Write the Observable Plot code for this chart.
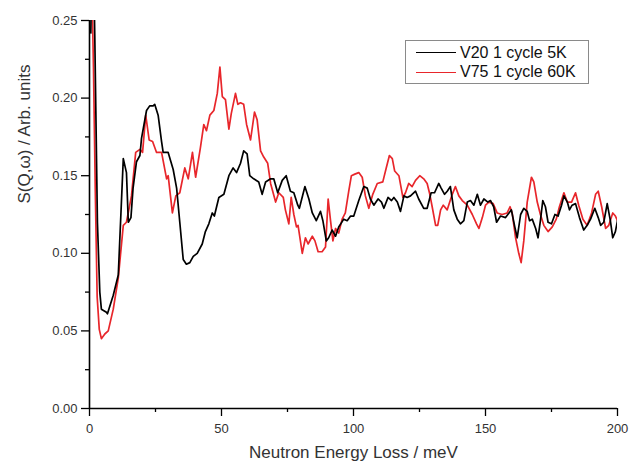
<!DOCTYPE html>
<html>
<head>
<meta charset="utf-8">
<script src="https://cdn.jsdelivr.net/npm/d3@7"></script>
<script src="https://cdn.jsdelivr.net/npm/@observablehq/plot@0.6"></script>
<style>
  html, body { margin: 0; padding: 0; background: #fff; }
  #chart { position: relative; width: 629px; height: 462px; font-family: "Liberation Sans", Arial, sans-serif; }
  #legend {
    position: absolute; left: 405px; top: 40px; width: 184px; height: 44px;
    border: 1px solid #8a8a8a; background: #fff; box-sizing: border-box;
    font-size: 16px; color: #111; padding-top: 2px;
  }
  #legend .row { display: flex; align-items: center; height: 19.5px; }
  #legend .swatch { width: 40px; height: 0; margin-left: 10px; margin-right: 4px; }
</style>
</head>
<body>
<div id="chart"></div>
<script>
// V20, 1 cycle, measured at 5 K
const v20Energy = [0.5, 1.2, 2.0, 3.0, 3.9, 4.5, 6.4, 6.8, 9.0, 10.9, 12.8, 14.0, 14.7, 15.7, 16.5, 17.8, 19.1, 19.7, 21.6, 22.8, 24.1, 24.7, 26.0, 27.3, 27.9, 29.8, 31.7, 33.0, 34.2, 35.5, 36.7, 38.0, 39.3, 40.8, 42.7, 43.9, 45.2, 46.5, 47.3, 49.0, 50.9, 52.8, 54.4, 55.7, 57.2, 58.4, 59.7, 60.7, 62.2, 64.1, 65.4, 66.7, 68.6, 69.8, 71.3, 73.0, 74.5, 76.1, 77.4, 78.9, 79.5, 81.6, 83.1, 84.4, 85.9, 87.5, 88.4, 89.7, 90.6, 91.9, 93.2, 94.4, 96.3, 97.6, 98.9, 100.1, 102.0, 103.9, 105.2, 106.4, 107.7, 109.3, 110.6, 111.5, 113.1, 114.4, 115.3, 116.6, 117.8, 119.1, 120.3, 121.6, 123.5, 124.7, 126.6, 127.9, 129.4, 130.7, 132.3, 133.2, 134.5, 135.5, 136.7, 138.0, 139.3, 140.5, 141.8, 143.1, 144.3, 145.6, 146.9, 148.1, 149.4, 150.9, 151.9, 153.1, 154.2, 155.7, 157.6, 159.8, 161.1, 162.0, 163.3, 164.5, 165.8, 166.7, 167.7, 169.0, 169.9, 170.8, 171.7, 172.7, 173.7, 175.0, 176.3, 177.5, 178.8, 179.7, 181.0, 181.8, 182.8, 184.1, 185.6, 187.2, 188.5, 189.8, 191.4, 192.7, 193.6, 194.8, 196.1, 197.3, 198.2, 199.2, 200.0];
const v20S = [0.242, 0.32, 0.24, 0.12, 0.075, 0.064, 0.062, 0.061, 0.073, 0.086, 0.161, 0.152, 0.120, 0.123, 0.142, 0.159, 0.163, 0.174, 0.192, 0.195, 0.195, 0.196, 0.189, 0.172, 0.165, 0.165, 0.154, 0.142, 0.120, 0.096, 0.093, 0.094, 0.098, 0.100, 0.106, 0.114, 0.119, 0.126, 0.124, 0.136, 0.138, 0.150, 0.155, 0.152, 0.158, 0.166, 0.164, 0.150, 0.148, 0.146, 0.138, 0.146, 0.148, 0.148, 0.139, 0.147, 0.150, 0.140, 0.139, 0.131, 0.129, 0.143, 0.135, 0.126, 0.121, 0.127, 0.121, 0.108, 0.110, 0.115, 0.111, 0.117, 0.122, 0.121, 0.124, 0.124, 0.134, 0.143, 0.142, 0.135, 0.131, 0.135, 0.133, 0.129, 0.136, 0.134, 0.136, 0.133, 0.127, 0.137, 0.136, 0.137, 0.140, 0.135, 0.129, 0.129, 0.139, 0.139, 0.145, 0.142, 0.138, 0.140, 0.143, 0.128, 0.122, 0.119, 0.121, 0.133, 0.134, 0.131, 0.138, 0.131, 0.135, 0.133, 0.134, 0.130, 0.120, 0.124, 0.123, 0.128, 0.117, 0.110, 0.125, 0.129, 0.127, 0.121, 0.122, 0.116, 0.110, 0.121, 0.134, 0.130, 0.120, 0.119, 0.125, 0.124, 0.131, 0.137, 0.133, 0.128, 0.131, 0.132, 0.123, 0.115, 0.118, 0.122, 0.129, 0.123, 0.118, 0.120, 0.132, 0.121, 0.110, 0.114, 0.121];

// V75, 1 cycle, measured at 60 K
const v75Energy = [0.6, 1.5, 2.2, 2.9, 3.7, 4.5, 5.8, 7.1, 9.0, 10.9, 12.8, 14.0, 15.9, 17.5, 19.1, 20.1, 21.3, 22.6, 23.9, 25.4, 27.3, 29.2, 29.8, 31.4, 32.7, 34.2, 36.1, 37.4, 39.0, 40.2, 42.0, 43.3, 44.3, 45.6, 47.1, 48.4, 49.4, 50.3, 51.5, 52.8, 53.7, 55.3, 56.2, 57.2, 58.4, 59.5, 61.0, 62.5, 63.5, 64.8, 66.0, 67.5, 68.6, 70.5, 71.7, 73.4, 74.2, 75.5, 76.4, 77.4, 78.4, 79.0, 80.6, 81.8, 82.8, 84.4, 85.4, 86.6, 88.1, 89.4, 90.4, 91.3, 92.2, 93.2, 94.4, 95.7, 96.9, 98.2, 99.2, 100.5, 102.0, 103.3, 104.5, 105.8, 107.3, 109.0, 111.1, 112.4, 113.6, 114.7, 115.6, 117.2, 118.7, 119.7, 120.9, 122.2, 123.5, 125.1, 126.6, 127.9, 128.9, 129.8, 131.1, 131.9, 133.0, 134.0, 135.5, 137.4, 138.6, 139.9, 141.2, 143.1, 145.0, 146.6, 147.5, 148.8, 150.0, 151.3, 152.9, 154.4, 156.3, 158.2, 159.3, 160.1, 161.4, 162.6, 163.5, 164.5, 165.8, 167.4, 168.3, 169.6, 170.8, 172.1, 173.7, 175.3, 176.8, 178.0, 179.7, 181.0, 182.6, 184.1, 185.3, 186.9, 188.5, 190.2, 191.7, 192.7, 194.0, 195.5, 196.7, 198.2, 199.2, 200.0];
const v75S = [0.30, 0.22, 0.14, 0.072, 0.051, 0.045, 0.048, 0.050, 0.064, 0.084, 0.118, 0.120, 0.137, 0.165, 0.167, 0.165, 0.189, 0.173, 0.172, 0.165, 0.165, 0.148, 0.150, 0.126, 0.137, 0.139, 0.155, 0.148, 0.165, 0.149, 0.168, 0.183, 0.179, 0.189, 0.192, 0.203, 0.220, 0.201, 0.199, 0.180, 0.190, 0.203, 0.196, 0.197, 0.196, 0.183, 0.173, 0.191, 0.186, 0.166, 0.162, 0.158, 0.145, 0.133, 0.139, 0.136, 0.128, 0.119, 0.136, 0.125, 0.117, 0.118, 0.100, 0.110, 0.106, 0.111, 0.108, 0.101, 0.101, 0.104, 0.135, 0.121, 0.108, 0.116, 0.113, 0.122, 0.126, 0.140, 0.150, 0.151, 0.152, 0.149, 0.137, 0.129, 0.138, 0.145, 0.146, 0.155, 0.163, 0.161, 0.153, 0.150, 0.136, 0.139, 0.145, 0.143, 0.147, 0.150, 0.148, 0.145, 0.138, 0.130, 0.118, 0.118, 0.128, 0.131, 0.128, 0.138, 0.143, 0.137, 0.134, 0.131, 0.125, 0.119, 0.116, 0.123, 0.131, 0.133, 0.132, 0.126, 0.125, 0.126, 0.130, 0.126, 0.110, 0.100, 0.094, 0.108, 0.133, 0.149, 0.146, 0.133, 0.125, 0.118, 0.114, 0.117, 0.122, 0.130, 0.139, 0.133, 0.133, 0.139, 0.131, 0.122, 0.118, 0.126, 0.138, 0.140, 0.130, 0.116, 0.118, 0.126, 0.124, 0.121];

const seriesNames = ["V20 1 cycle 5K", "V75 1 cycle 60K"];
const seriesColors = ["#000000", "#e8262b"];

const xMajor = [0, 50, 100, 150, 200];
const xMinor = [25, 75, 125, 175];
const yMajor = [0, 0.05, 0.10, 0.15, 0.20, 0.25];
const yMinor = [0.025, 0.075, 0.125, 0.175, 0.225];

const xLabel = "Neutron Energy Loss / meV";
const yLabel = "S(Q,ω) / Arb. units";

const v20 = v20Energy.map((e, i) => ({e, s: v20S[i]}));
const v75 = v75Energy.map((e, i) => ({e, s: v75S[i]}));

const plot = Plot.plot({
  width: 629,
  height: 462,
  marginLeft: 89,
  marginRight: 12,
  marginTop: 20,
  marginBottom: 54,
  style: {fontFamily: "'Liberation Sans', Arial, sans-serif", fontSize: "13px", color: "#222", background: "#fff", overflow: "visible"},
  x: {domain: [0, 200]},
  y: {domain: [0, 0.25]},
  marks: [
    Plot.lineY(v75, {x: "e", y: "s", stroke: seriesColors[1], strokeWidth: 1.7, clip: true}),
    Plot.lineY(v20, {x: "e", y: "s", stroke: seriesColors[0], strokeWidth: 1.7, clip: true}),
    Plot.axisX({ticks: xMinor, tickSize: 4, tickFormat: () => "", label: null, stroke: "#000", strokeWidth: 1.3}),
    Plot.axisX({ticks: xMajor, tickSize: 8, tickPadding: 7, tickFormat: d => String(d), label: null, stroke: "#000", strokeWidth: 1.3, fill: "#333", fontSize: 13}),
    Plot.axisY({ticks: yMinor, tickSize: 4, tickFormat: () => "", label: null, stroke: "#000", strokeWidth: 1.3}),
    Plot.axisY({ticks: yMajor, tickSize: 8, tickPadding: 4, tickFormat: d3.format(".2f"), label: null, stroke: "#000", strokeWidth: 1.3, fill: "#333", fontSize: 13}),
    Plot.ruleY([0], {stroke: "#000", strokeWidth: 1.6}),
    Plot.ruleX([0], {stroke: "#000", strokeWidth: 1.6}),
    Plot.text([xLabel], {frameAnchor: "bottom", dy: 44, lineAnchor: "middle", fontSize: 17, fill: "#333"}),
    Plot.text([yLabel], {frameAnchor: "left", dx: -65, dy: -11, rotate: -90, lineAnchor: "middle", fontSize: 17, fill: "#333"})
  ]
});

const chart = document.getElementById("chart");
chart.appendChild(plot);

// legend box inside the plotting area
const legend = document.createElement("div");
legend.id = "legend";
seriesNames.forEach((name, i) => {
  const row = document.createElement("div");
  row.className = "row";
  const sw = document.createElement("span");
  sw.className = "swatch";
  sw.style.borderTop = `1.6px solid ${seriesColors[i]}`;
  const label = document.createElement("span");
  label.textContent = name;
  row.appendChild(sw);
  row.appendChild(label);
  legend.appendChild(row);
});
chart.appendChild(legend);
</script>
</body>
</html>
